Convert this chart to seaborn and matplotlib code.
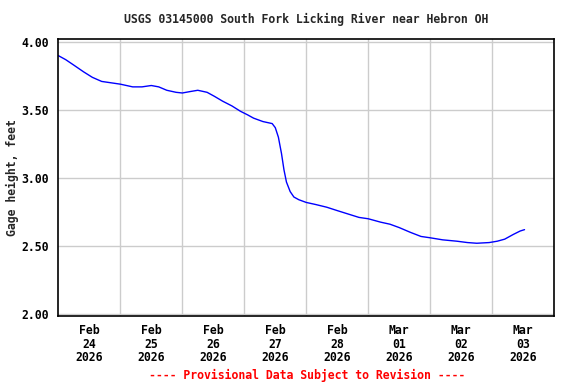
import matplotlib
matplotlib.use("Agg")
import matplotlib.pyplot as plt
import seaborn as sns
import pandas as pd

# ---- data ----
start = "2026-02-24 00:00"
days = [0.00, 0.12, 0.25, 0.41, 0.55, 0.70, 0.85, 1.00, 1.20, 1.35, 1.50, 1.62,
        1.75, 1.90, 2.00, 2.12, 2.25, 2.40, 2.52, 2.65, 2.80, 2.94, 3.05, 3.15,
        3.30, 3.45, 3.50, 3.55, 3.60, 3.64, 3.68, 3.74, 3.80, 3.88, 4.00, 4.15,
        4.33, 4.50, 4.71, 4.85, 5.00, 5.20, 5.35, 5.50, 5.68, 5.85, 6.00, 6.20,
        6.43, 6.60, 6.75, 6.95, 7.08, 7.20, 7.34, 7.45, 7.52]
gage = [3.90, 3.87, 3.83, 3.78, 3.74, 3.71, 3.70, 3.69, 3.67, 3.67, 3.68, 3.67,
        3.645, 3.63, 3.625, 3.635, 3.645, 3.63, 3.60, 3.565, 3.53, 3.49, 3.465, 3.44,
        3.415, 3.40, 3.37, 3.30, 3.18, 3.06, 2.97, 2.90, 2.86, 2.84, 2.82, 2.805,
        2.785, 2.76, 2.73, 2.71, 2.70, 2.675, 2.66, 2.635, 2.60, 2.57, 2.56, 2.545,
        2.535, 2.525, 2.52, 2.525, 2.535, 2.55, 2.585, 2.61, 2.62]
yticks = [2.00, 2.50, 3.00, 3.50, 4.00]
ytick_labels = ["2.00", "2.50", "3.00", "3.50", "4.00"]
xtick_labels = ["Feb\n24\n2026", "Feb\n25\n2026", "Feb\n26\n2026", "Feb\n27\n2026",
                "Feb\n28\n2026", "Mar\n01\n2026", "Mar\n02\n2026", "Mar\n03\n2026"]
title = "USGS 03145000 South Fork Licking River near Hebron OH"
ylabel = "Gage height, feet"
footer = "---- Provisional Data Subject to Revision ----"

t0 = pd.Timestamp(start)
df = pd.DataFrame({"time": [t0 + pd.Timedelta(days=d) for d in days], "gage": gage})

sns.set_theme(style="white")
plt.rcParams["font.family"] = ["DejaVu Sans Mono"]
plt.rcParams["font.weight"] = "bold"
FS = 8.3

fig = plt.figure(figsize=(5.76, 3.84), dpi=100)
ax = fig.add_axes([0.1012, 0.1771, 0.9623 - 0.1012, 0.8977 - 0.1771])

sns.lineplot(data=df, x="time", y="gage", ax=ax, color="#0000ff", linewidth=1.0)

ax.set_xlim(t0, t0 + pd.Timedelta(days=8))
ax.set_ylim(1.985, 4.02)

ax.set_yticks(yticks)
ax.set_yticklabels(ytick_labels)
midnights = [t0 + pd.Timedelta(days=i) for i in range(9)]
noons = [t0 + pd.Timedelta(days=i, hours=12) for i in range(8)]
ax.set_xticks(noons)
ax.set_xticklabels(xtick_labels, linespacing=1.03)

ax.grid(False)
for m in midnights[1:-1]:
    ax.axvline(m, color="#cccccc", linewidth=1.0, zorder=0)
for yv in yticks:
    ax.axhline(yv, color="#cccccc", linewidth=1.0, zorder=0)

ax.tick_params(axis="both", which="both", length=0, labelsize=FS, colors="black")
ax.tick_params(axis="y", pad=7)
ax.tick_params(axis="x", pad=6)
for lab in ax.get_xticklabels() + ax.get_yticklabels():
    lab.set_fontweight("bold")

for s in ax.spines.values():
    s.set_color("black")
    s.set_linewidth(1.2)

ax.set_xlabel("")
ax.set_ylabel(ylabel, fontsize=FS, fontweight="bold")
ax.yaxis.set_label_coords(-0.079, 0.5)
fig.text(306 / 576, 1 - 19 / 384, title, ha="center", va="center", fontsize=FS,
         fontweight="bold")
fig.text(307 / 576, 1 - 375 / 384, footer, ha="center", va="center", fontsize=FS,
         fontweight="bold", color="#ff0000")

fig.savefig("out.png", dpi=100, facecolor="white")
